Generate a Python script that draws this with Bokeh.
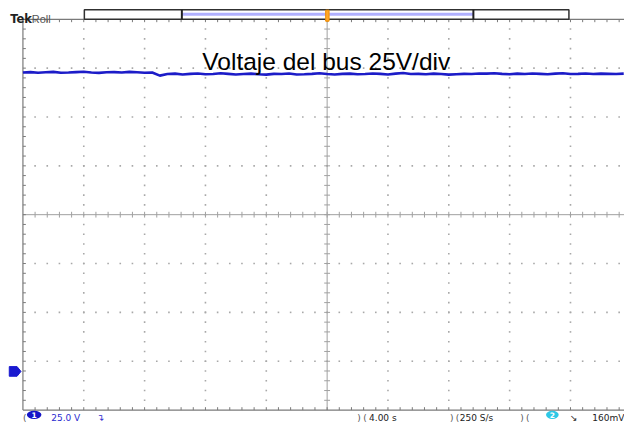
import numpy as np
from bokeh.plotting import figure
from bokeh.models import Range1d
from bokeh.core.properties import value
from bokeh.embed import file_html
from bokeh.resources import INLINE

# ---------------- data ----------------
TITLE = "Voltaje del bus 25V/div"
T_DIV = 4.0       # s/div
V_DIV = 25.0      # V/div
SAMPLE_STEP = 0.5 # s between plotted samples
bus_voltage = [
    153.0, 153.2, 152.9, 153.1, 153.3, 152.9, 153.0, 153.2, 153.4, 153.0,
    152.8, 153.1, 153.2, 153.0, 153.3, 153.1, 152.9, 153.0,
    151.4, 152.2, 152.4, 152.0, 152.3, 152.5, 152.1, 152.2, 152.6, 152.3,
    152.0, 152.2, 152.4, 152.1, 151.9, 152.3, 152.2, 152.5, 152.0, 152.1,
    152.3, 152.6, 152.2, 152.0, 152.3, 152.4, 152.1, 152.2, 152.5, 152.3,
    152.0, 152.4, 152.7, 152.2, 152.3, 152.1, 152.4, 152.2, 151.9, 152.1,
    152.3, 152.2, 152.5, 152.4, 152.6, 152.3, 152.1, 152.4, 152.2, 152.5,
    152.3, 152.1, 152.4, 152.6, 152.2, 152.3, 152.5, 152.2, 152.4, 152.3,
    152.2, 152.4,
]
time_s = [i * SAMPLE_STEP for i in range(len(bus_voltage))]
status_left = ["25.0 V"]
status_mid = ["4.00 s", "250 S/s"]
status_right = ["160mV"]

# ---------------- geometry helpers (reference pixel -> data) ----------------
W, H = 624, 422
REF_W, REF_H = 640, 438
GX0, GDX = 23.0, 62.4
GY_TOP, GDY = 19.5, 50.7
GY_GND = 385.0

def tx(px):
    return (px - GX0) / GDX * T_DIV

def vy(py):
    return (GY_GND - py) / GDY * V_DIV

p = figure(width=W, height=H,
           x_range=Range1d(tx(0), tx(REF_W)), y_range=Range1d(vy(REF_H), vy(0)),
           output_backend="svg", toolbar_location=None,
           x_axis_location=None, y_axis_location=None, min_border=0)
p.grid.visible = False
p.outline_line_color = None
p.background_fill_color = "white"
p.border_fill_color = "white"

# ---------------- graticule ----------------
t_l, t_r = 0.0, 10 * T_DIV
v_top = vy(GY_TOP)
v_bot = v_top - 8 * V_DIV
t_c = 5 * T_DIV
v_c = v_top - 4 * V_DIV
tk_t = 3.0 / GDX * T_DIV
tk_v = 3.0 / GDY * V_DIV
minor_t = np.arange(1, 50) * T_DIV / 5
minor_v = v_top - np.arange(1, 40) * V_DIV / 5

dx, dy = [], []
for k in range(1, 10):
    if k == 5:
        continue
    dx += [k * T_DIV] * len(minor_v)
    dy += list(minor_v)
for k in range(1, 8):
    if k == 4:
        continue
    dx += list(minor_t)
    dy += [v_top - k * V_DIV] * len(minor_t)
p.scatter(dx, dy, marker="square", size=1.6, fill_color="#a8a8a8", line_color=None)

gcol = "#a0a0a0"
p.segment(x0=[t_c, t_l], y0=[v_bot, v_c], x1=[t_c, t_r], y1=[v_top, v_c], line_color=gcol, line_width=1)
p.segment(x0=list(minor_t), y0=[v_c - tk_v] * len(minor_t), x1=list(minor_t), y1=[v_c + tk_v] * len(minor_t),
          line_color=gcol, line_width=1)
p.segment(x0=[t_c - tk_t] * len(minor_v), y0=list(minor_v), x1=[t_c + tk_t] * len(minor_v), y1=list(minor_v),
          line_color=gcol, line_width=1)
bcol = "#7a7a7a"
p.segment(x0=[t_l, t_l, t_l], y0=[v_bot, v_top, v_bot], x1=[t_l, t_r, t_r], y1=[v_top, v_top, v_bot],
          line_color=bcol, line_width=1.2)
p.segment(x0=[t_l] * len(minor_v), y0=list(minor_v), x1=[t_l + tk_t] * len(minor_v), y1=list(minor_v),
          line_color=bcol, line_width=1)
p.segment(x0=list(minor_t), y0=[v_top] * len(minor_t), x1=list(minor_t), y1=[v_top - tk_v] * len(minor_t),
          line_color=bcol, line_width=1)
p.segment(x0=list(minor_t), y0=[v_bot] * len(minor_t), x1=list(minor_t), y1=[v_bot + tk_v] * len(minor_t),
          line_color=bcol, line_width=1)

# ---------------- trace ----------------
p.line(time_s, bus_voltage, line_color="#1c1cc8", line_width=2.6)

# ground marker (channel 1 at 0 V)
p.patch([tx(9), tx(17), tx(21), tx(17), tx(9)],
        [vy(380), vy(380), 0.0, vy(390), vy(390)], fill_color="#1a1ad0", line_color="#1a1ad0")

# ---------------- top record bar ----------------
p.quad(left=[tx(86)], right=[tx(583)], top=[vy(9.5)], bottom=[vy(19.5)],
       fill_color="white", line_color="#303030", line_width=1.5)
p.quad(left=[tx(186)], right=[tx(485)], top=[vy(12.8)], bottom=[vy(15.8)],
       fill_color="#b0b0ff", line_color=None)
p.segment(x0=[tx(186), tx(485)], y0=[vy(9.5)] * 2, x1=[tx(186), tx(485)], y1=[vy(19.5)] * 2,
          line_color="#202020", line_width=2)
p.quad(left=[tx(333.5)], right=[tx(337)], top=[vy(10)], bottom=[vy(21.5)],
       fill_color="#ffa726", line_color="#f08c00", line_width=1)

p.text(x=[tx(10)], y=[vy(19)], text=["Tek"], text_font=value("DejaVu Sans"), text_font_style="bold",
       text_font_size="11.5px", text_color="#222222", text_baseline="alphabetic")
p.text(x=[tx(32)], y=[vy(19)], text=["Roll"], text_font=value("Liberation Sans"),
       text_font_size="11px", text_color="#555555", text_baseline="alphabetic")

# ---------------- title ----------------
p.text(x=[tx(207)], y=[vy(63.5)], text=[TITLE], text_font=value("Liberation Sans"),
       text_font_size="24.5px", text_color="#000000", text_baseline="alphabetic")

# ---------------- status bar ----------------
sb = vy(433.5)
sc = vy(430.0)
p.ellipse(x=[tx(34.5)], y=[sc], width=[15 / GDX * T_DIV], height=[8.5 / GDY * V_DIV],
          fill_color="#1515c8", line_color=None)
p.text(x=[tx(34.5)], y=[sc], text=["1"], text_font=value("DejaVu Sans"), text_font_style="bold",
       text_font_size="7.5px", text_color="white", text_align="center", text_baseline="middle")
p.text(x=[tx(23)], y=[sb], text=["("], text_font=value("DejaVu Sans"), text_font_size="9px",
       text_color="#555555", text_baseline="alphabetic")
p.text(x=[tx(52)], y=[sb], text=status_left, text_font=value("DejaVu Sans"), text_font_size="9px",
       text_color="#2a2ad0", text_baseline="alphabetic")
p.text(x=[tx(99)], y=[sb], text=["\u21b4"], text_font=value("DejaVu Sans"), text_font_size="9px",
       text_color="#2a2ad0", text_baseline="alphabetic")
for xb in [366, 461, 533]:
    p.text(x=[tx(xb)], y=[sb], text=[")"], text_font=value("DejaVu Sans"), text_font_size="9px",
           text_color="#555555", text_baseline="alphabetic")
    p.text(x=[tx(xb + 6)], y=[sb], text=["("], text_font=value("DejaVu Sans"), text_font_size="9px",
           text_color="#555555", text_baseline="alphabetic")
p.text(x=[tx(378), tx(471)], y=[sb, sb], text=status_mid, text_font=value("DejaVu Sans"),
       text_font_size="9px", text_color="#222222", text_baseline="alphabetic")
p.ellipse(x=[tx(566)], y=[sc], width=[13 / GDX * T_DIV], height=[8.5 / GDY * V_DIV],
          fill_color="#2ec8e6", line_color=None)
p.text(x=[tx(566)], y=[sc], text=["2"], text_font=value("DejaVu Sans"), text_font_style="bold",
       text_font_size="7.5px", text_color="white", text_align="center", text_baseline="middle")
p.text(x=[tx(584)], y=[sb], text=["\u2198"], text_font=value("DejaVu Sans"), text_font_size="9px",
       text_color="#222222", text_baseline="alphabetic")
p.text(x=[tx(607)], y=[sb], text=status_right, text_font=value("DejaVu Sans"),
       text_font_size="9px", text_color="#222222", text_baseline="alphabetic")

open("out.html", "w").write(file_html(p, INLINE))
